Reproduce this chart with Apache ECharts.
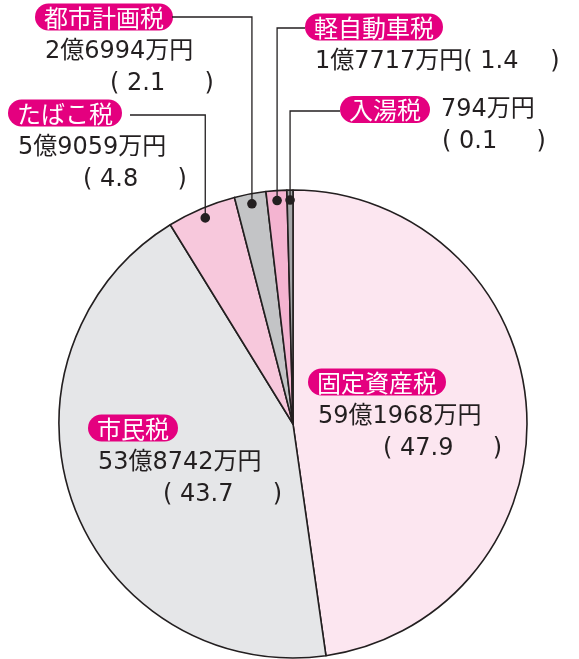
<!DOCTYPE html>
<html lang="ja">

<head>
  <meta charset="utf-8">
  <title>市税の内訳</title>
  <script src="https://cdn.jsdelivr.net/npm/echarts@6/dist/echarts.min.js"></script>
</head>

<body style="margin:0">
<div id="main" style="width: 579px;height:659px;"></div>
<script type="text/javascript">
    // data: amounts in 万円, percent as printed
    var names = ['固定資産税', '市民税', 'たばこ税', '都市計画税', '軽自動車税', '入湯税'];
    var amounts = [591968, 538742, 59059, 26994, 17717, 794];
    var percents = ['47.9', '43.7', '4.8', '2.1', '1.4', '0.1'];

    var colors = ['#fce6f0', '#e5e6e8', '#f7c8dc', '#c3c4c6', '#f4b4d1', '#a5a7a9'];
    var font = '"DejaVu Sans", "Noto Sans CJK JP", sans-serif';
    var tagFont = '"Noto Sans CJK JP", sans-serif';
    var ink = '#231f20';

    // top-left of each label's tag
    var labelPos = [[308, 370], [88, 416], [8, 101], [35, 5], [305, 15], [340, 96]];
    // leader lines for the thin slices: index, elbow y, end x
    var leaders = [[2, 115, 130], [3, 17, 172], [4, 28, 305], [5, 111, 340]];

    function yen(v) {
        var oku = Math.floor(v / 10000);
        return (oku > 0 ? oku + '億' : '') + (v % 10000) + '万円';
    }

    function labelText(i) {
        if (i === 4) {
            return '{t|' + names[i] + '}\n{v|' + yen(amounts[i]) + '( ' + percents[i] + '　 )}';
        }
        if (i === 5) {
            return '{t|' + names[i] + '}{v2|' + yen(amounts[i]) + '}\n{p2|( ' + percents[i] + '　  )}';
        }
        return '{t|' + names[i] + '}\n{v|' + yen(amounts[i]) + '}\n{p|( ' + percents[i] + '　  )}';
    }

    var seriesData = [];
    for (var i = 0; i < names.length; i++) {
        seriesData.push({value: amounts[i], name: names[i], itemStyle: {color: colors[i]}});
    }

    var myChart = echarts.init(document.getElementById('main'));

    option = {
        animation: false,
        series: [{
            type: 'pie',
            center: [293, 424],
            radius: 234,
            startAngle: 90,
            clockwise: true,
            minAngle: 1.5,
            silent: true,
            itemStyle: {
                borderColor: ink,
                borderWidth: 1.6
            },
            label: {
                show: true,
                position: 'inside',
                overflow: 'none',
                rotate: 0,
                formatter: function (p) {
                    return labelText(p.dataIndex);
                },
                rich: {
                    t: {
                        color: '#fff', backgroundColor: '#e4007f', borderRadius: 14,
                        padding: [2, 9, 1, 9], fontSize: 24, lineHeight: 24, fontFamily: tagFont
                    },
                    v: {color: ink, fontSize: 24, lineHeight: 46, padding: [0, 0, 0, 10], fontFamily: font},
                    v2: {color: ink, fontSize: 24, lineHeight: 27, padding: [0, 0, 0, 11], fontFamily: font},
                    p: {color: ink, fontSize: 24, lineHeight: 18, padding: [0, 0, 0, 75], fontFamily: font},
                    p2: {color: ink, fontSize: 24, lineHeight: 38, padding: [0, 0, 0, 102], fontFamily: font}
                }
            },
            labelLine: {show: false},
            labelLayout: function (params) {
                var pos = labelPos[params.dataIndex];
                return {x: pos[0], y: pos[1], align: 'left', verticalAlign: 'top'};
            },
            data: seriesData
        }]
    };

    myChart.setOption(option);

    // leader lines with dots, placed from the pie's own layout
    var pieData = myChart.getModel().getSeriesByIndex(0).getData();
    var graphics = [];
    leaders.forEach(function (l) {
        var lay = pieData.getItemLayout(l[0]);
        var mid = (lay.startAngle + lay.endAngle) / 2;
        var rr = lay.r - 10;
        var px = lay.cx + rr * Math.cos(mid);
        var py = lay.cy + rr * Math.sin(mid);
        graphics.push({
            type: 'polyline',
            shape: {points: [[px, py], [px, l[1]], [l[2], l[1]]]},
            style: {stroke: ink, lineWidth: 1.3, fill: null},
            z: 10
        });
        graphics.push({
            type: 'circle',
            shape: {cx: px, cy: py, r: 4.8},
            style: {fill: ink},
            z: 10
        });
    });
    myChart.setOption({graphic: graphics});
</script>

</body>
</html>
